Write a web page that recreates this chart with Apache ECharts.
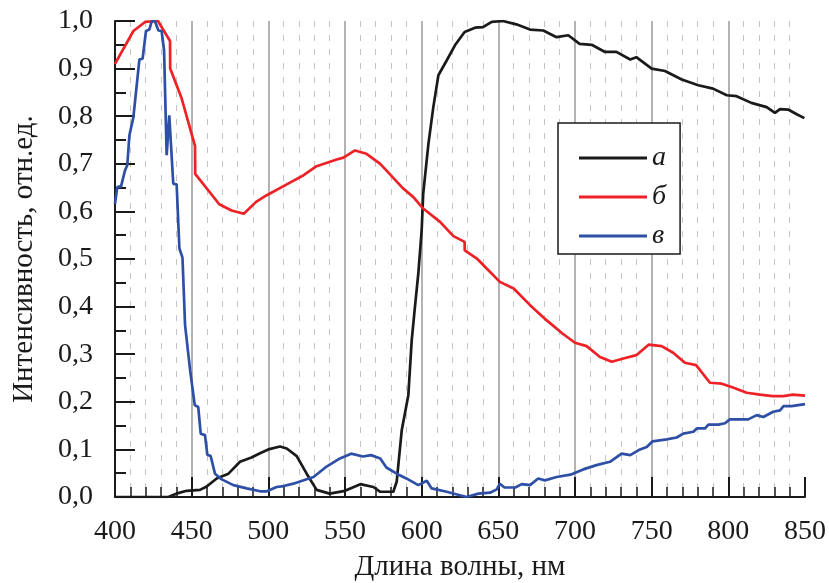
<!DOCTYPE html>
<html>
<head>
<meta charset="utf-8">
<script src="https://cdn.jsdelivr.net/npm/echarts@6/dist/echarts.min.js"></script>
<style>
  html, body { margin: 0; padding: 0; background: #fff; }
  #chart { width: 829px; height: 583px; }
</style>
</head>
<body>
<div id="chart"></div>
<script>
// кривая а (чёрная)
let aWave = [400, 434.8, 440, 446.7, 455.4, 459.8, 466.3, 474, 481.5, 489, 494.6, 500, 507.6, 512, 518.5, 525, 531.5, 540, 550, 560, 568.5, 573, 581.5, 583.7, 587, 591.3, 593.5, 595.6, 597.8, 600, 601, 604.4, 607.6, 610.9, 616.3, 621.7, 628, 634.8, 640, 645.7, 653, 661.7, 670.7, 679.3, 688, 695.6, 703, 710.9, 719.6, 727, 736, 740, 750, 758.7, 769.6, 780.4, 790, 799, 805.4, 815, 825, 830.4, 833.7, 839, 844.6, 849.6];
let aVal = [0, 0, 0.007, 0.013, 0.015, 0.022, 0.039, 0.049, 0.074, 0.083, 0.092, 0.100, 0.106, 0.102, 0.086, 0.049, 0.015, 0.007, 0.013, 0.027, 0.021, 0.011, 0.011, 0.032, 0.140, 0.214, 0.329, 0.399, 0.469, 0.560, 0.637, 0.742, 0.819, 0.886, 0.917, 0.949, 0.977, 0.986, 0.987, 0.998, 1.0, 0.993, 0.982, 0.980, 0.966, 0.970, 0.952, 0.950, 0.935, 0.935, 0.919, 0.924, 0.900, 0.895, 0.877, 0.865, 0.858, 0.844, 0.842, 0.828, 0.819, 0.807, 0.815, 0.814, 0.804, 0.796];

// кривая б (красная)
let bWave = [400, 412, 419.6, 428, 435.9, 436, 443.5, 452.2, 452.3, 468, 476, 484, 492, 499, 515, 523, 531.5, 544.6, 549, 556.5, 564, 573, 588, 594.6, 601, 612, 620.7, 628, 628.1, 636, 642.4, 651, 660, 670.7, 681.6, 692, 700, 707.6, 716.3, 724, 731.5, 740, 748, 756.5, 764, 771.7, 779, 788, 795.7, 803, 812, 820.6, 829, 836, 842, 850];
let bVal = [0.910, 0.979, 0.998, 1.0, 0.958, 0.900, 0.837, 0.737, 0.679, 0.615, 0.602, 0.595, 0.620, 0.634, 0.662, 0.676, 0.695, 0.709, 0.713, 0.728, 0.721, 0.700, 0.648, 0.630, 0.606, 0.578, 0.548, 0.536, 0.518, 0.501, 0.480, 0.452, 0.438, 0.403, 0.371, 0.343, 0.324, 0.317, 0.294, 0.284, 0.291, 0.298, 0.320, 0.317, 0.303, 0.282, 0.277, 0.240, 0.238, 0.230, 0.219, 0.215, 0.212, 0.212, 0.215, 0.213];

// кривая в (синяя)
let cWave = [400, 401.5, 404, 406.5, 408, 409.4, 412, 415.9, 418, 420.2, 422.4, 424, 426, 428.3, 430.4, 432, 433.7, 435.4, 438, 440.2, 442, 444, 445.7, 449, 452, 454.3, 455.9, 458.7, 460.2, 462.4, 465.2, 469.6, 477.2, 485.9, 494.6, 499, 505.4, 510, 516.3, 523, 529.5, 538, 546.7, 554, 561.7, 567, 573, 577, 583.7, 590, 597.8, 603.3, 606.5, 616.3, 629.3, 637, 644.6, 649, 651, 654, 661, 665.3, 670.7, 676, 680.4, 688, 697, 705.4, 714, 722.8, 730.4, 736, 742.4, 746.8, 750.6, 759.8, 766.3, 770.6, 777.2, 779.4, 784.8, 787, 793.5, 797.8, 801, 813, 818.5, 822.8, 829.3, 833.7, 836, 841.3, 850];
let cVal = [0.616, 0.651, 0.653, 0.686, 0.697, 0.760, 0.798, 0.919, 0.921, 0.979, 0.982, 1.0, 1.0, 0.980, 0.979, 0.938, 0.718, 0.802, 0.658, 0.657, 0.522, 0.503, 0.361, 0.266, 0.193, 0.189, 0.133, 0.130, 0.089, 0.086, 0.049, 0.037, 0.025, 0.018, 0.012, 0.012, 0.021, 0.023, 0.028, 0.035, 0.042, 0.064, 0.081, 0.091, 0.085, 0.088, 0.081, 0.062, 0.049, 0.039, 0.025, 0.034, 0.018, 0.011, 0, 0.007, 0.009, 0.016, 0.028, 0.020, 0.020, 0.027, 0.025, 0.039, 0.035, 0.042, 0.047, 0.058, 0.067, 0.074, 0.091, 0.088, 0.100, 0.105, 0.117, 0.121, 0.125, 0.133, 0.137, 0.144, 0.144, 0.152, 0.152, 0.155, 0.163, 0.163, 0.172, 0.168, 0.179, 0.182, 0.191, 0.191, 0.195];

let seriesNames = ['а', 'б', 'в'];
let seriesColors = ['#1a1a1a', '#ee2226', '#2e4fa6'];

function pairs(xs, ys) {
    return xs.map(function (x, i) { return [x, ys[i]]; });
}

let myChart = echarts.init(document.getElementById('chart'));
let serif = '"Liberation Serif", "DejaVu Serif", serif';

let option = {
    animation: false,
    backgroundColor: '#fff',
    grid: { left: 115, right: 24, top: 21, bottom: 86, containLabel: false, outerBoundsMode: 'none' },
    legend: {
        data: seriesNames,
        orient: 'vertical',
        left: 558,
        top: 123,
        icon: 'rect',
        itemWidth: 68,
        itemHeight: 3,
        itemGap: 11,
        padding: [21, 14, 4, 21],
        backgroundColor: '#fff',
        borderColor: '#1a1a1a',
        borderWidth: 1.5,
        borderRadius: 0,
        textStyle: { fontFamily: serif, fontStyle: 'italic', fontSize: 28, color: '#1a1a1a', lineHeight: 27 }
    },
    xAxis: {
        type: 'value',
        min: 400,
        max: 850,
        interval: 50,
        name: 'Длина волны, нм',
        nameLocation: 'middle',
        nameGap: 56,
        nameMoveOverlap: false,
        nameTextStyle: { fontFamily: serif, fontSize: 29, color: '#1a1a1a' },
        axisLine: { show: true, lineStyle: { color: '#1a1a1a', width: 2 } },
        axisTick: { show: true, inside: true, length: 20, lineStyle: { color: '#1a1a1a', width: 2 } },
        minorTick: { show: true, splitNumber: 5, length: 10, lineStyle: { color: '#1a1a1a', width: 1.5 } },
        axisLabel: { fontFamily: serif, fontSize: 28, color: '#1a1a1a', margin: 21 },
        splitLine: { show: true, showMinLine: false, showMaxLine: false, lineStyle: { color: '#9a9a9a', width: 1.5 } },
        minorSplitLine: { show: true, lineStyle: { color: '#c4c4c4', width: 1, type: [6, 8] } }
    },
    yAxis: {
        type: 'value',
        min: 0,
        max: 1,
        interval: 0.1,
        name: 'Интенсивность, отн.ед.',
        nameLocation: 'middle',
        nameGap: 76,
        nameMoveOverlap: false,
        nameTextStyle: { fontFamily: serif, fontSize: 29, color: '#1a1a1a' },
        axisLine: { show: true, lineStyle: { color: '#1a1a1a', width: 2 } },
        axisTick: { show: true, inside: true, length: 20, lineStyle: { color: '#1a1a1a', width: 2 } },
        minorTick: { show: true, splitNumber: 2, length: 11, lineStyle: { color: '#1a1a1a', width: 2 } },
        axisLabel: {
            fontFamily: serif, fontSize: 28, color: '#1a1a1a', margin: 22,
            formatter: function (v) { return v.toFixed(1).replace('.', ','); }
        },
        splitLine: { show: false }
    },
    series: [
        { name: seriesNames[0], type: 'line', showSymbol: false, data: pairs(aWave, aVal), lineStyle: { color: seriesColors[0], width: 2.7 }, itemStyle: { color: seriesColors[0] } },
        { name: seriesNames[1], type: 'line', showSymbol: false, data: pairs(bWave, bVal), lineStyle: { color: seriesColors[1], width: 2.7 }, itemStyle: { color: seriesColors[1] } },
        { name: seriesNames[2], type: 'line', showSymbol: false, data: pairs(cWave, cVal), lineStyle: { color: seriesColors[2], width: 2.7 }, itemStyle: { color: seriesColors[2] } }
    ]
};

myChart.setOption(option);
</script>
</body>
</html>
